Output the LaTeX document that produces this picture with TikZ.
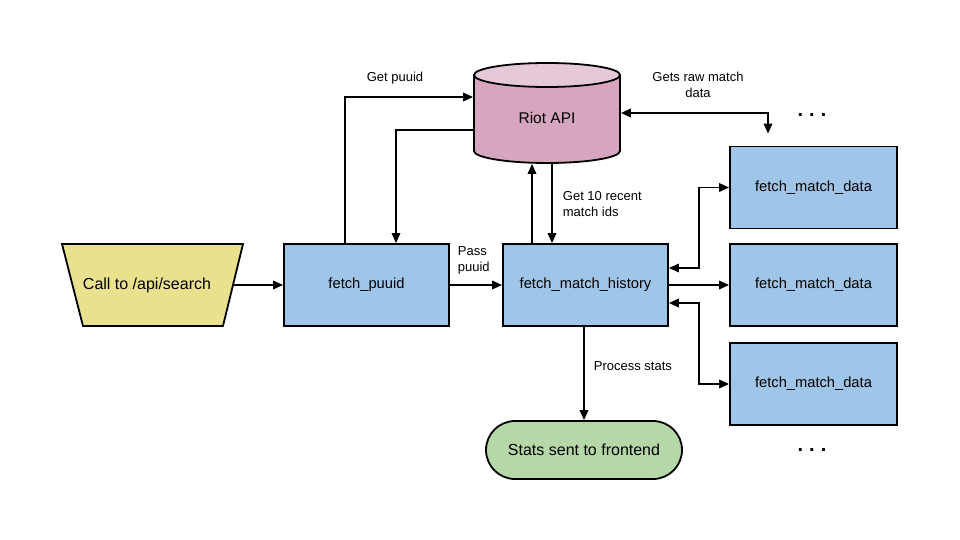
\documentclass[tikz,border=0pt]{standalone}
\usepackage{fontspec}
\setmainfont{Liberation Sans}
\usetikzlibrary{arrows.meta}
\definecolor{boxblue}{HTML}{9FC5E8}
\definecolor{callyellow}{HTML}{EAE18E}
\definecolor{riotpink}{HTML}{D5A6BD}
\definecolor{riottop}{HTML}{E6C9D8}
\definecolor{statsgreen}{HTML}{B6D7A8}
\tikzset{
  fbox/.style={draw, fill=boxblue, minimum width=165, minimum height=82, inner sep=0pt, font=\fontsize{14.7}{17}\selectfont},
  lbl/.style={font=\fontsize{13}{16}\selectfont, inner sep=0pt, align=left},
  dots/.style={font=\bfseries\fontsize{20}{20}\selectfont, inner sep=0pt},
}
\begin{document}
\begin{tikzpicture}[x=1pt,y=-1pt, line width=1.8pt, >={Triangle[length=10pt,width=8.5pt]}]
\useasboundingbox (0,0) rectangle (960,540);
% call trapezoid
\draw[fill=callyellow] (62,244) -- (243,244) -- (223,326) -- (83,326) -- cycle;
\node[font=\fontsize{16}{19}\selectfont, inner sep=0pt] (call) at (147,285) {Call to /api/search};
\coordinate (callR) at (233,285);
% boxes
\node[fbox] (puuid) at (366.5,285) {fetch\_puuid};
\node[fbox] (fmh) at (585.5,285) {fetch\_match\_history};
\node[fbox, minimum width=167] (fmd1) at (813.5,187.5) {fetch\_match\_data};
\node[fbox, minimum width=167] (fmd2) at (813.5,285) {fetch\_match\_data};
\node[fbox, minimum width=167] (fmd3) at (813.5,384) {fetch\_match\_data};
\node[draw, fill=statsgreen, minimum width=196, minimum height=58, rounded corners=29pt, font=\fontsize{16}{19}\selectfont] (stats) at (584,450) {Stats sent to frontend};
% Riot API cylinder
\draw[fill=riotpink] (474,75) -- (474,151) .. controls (474,157.6) and (506.7,163) .. (547,163) .. controls (587.3,163) and (620,157.6) .. (620,151) -- (620,75) -- cycle;
\draw[fill=riottop] (547,75) ellipse[x radius=73, y radius=12];
\node[minimum width=146, minimum height=100, inner sep=0pt] (riot) at (547,113) {};
\node[font=\fontsize{15.5}{18}\selectfont, inner sep=0pt] (riotlbl) at (547,118) {Riot API};
% dots
\node[dots] (dots1) at (812,115) {.\hspace{6pt}.\hspace{6pt}.};
\node[dots] (dots2) at (812,450) {.\hspace{6pt}.\hspace{6pt}.};
% connectors
\draw[->] (callR) -- (puuid.west);
\draw[->] ([xshift=-21.5pt]puuid.north) |- ([yshift=16pt]riot.west);
\draw[->] ([yshift=-17pt]riot.west) -| ([xshift=29.5pt]puuid.north);
\draw[->] (puuid.east) -- (fmh.west);
\draw[->] ([xshift=-53.5pt]fmh.north) -- ([xshift=-15pt]riot.south);
\draw[->] ([xshift=5pt]riot.south) -- ([xshift=-33.5pt]fmh.north);
\draw[<->] (riot.east) -| ([xshift=-45.5pt,yshift=12pt]fmd1.north);
\draw[<->] ([yshift=17pt]fmh.east) -- ++(30,0) |- (fmd1.west);
\draw[->] (fmh.east) -- (fmd2.west);
\draw[<->] ([yshift=-18pt]fmh.east) -- ++(30,0) |- (fmd3.west);
\draw[->] (fmh.south -| stats.north) -- (stats.north);
% labels
\node[lbl] (l1) at (395,78) {Get puuid};
\node[lbl, align=center] (l2) at (698,85) {Gets raw match\\data};
\node[lbl, anchor=west] (l3) at (457,260) {Pass\\puuid};
\node[lbl, anchor=west] (l4) at (562,204) {Get 10 recent\\match ids};
\node[lbl, anchor=west] (l5) at (593,366) {Process stats};
\end{tikzpicture}
\end{document}
